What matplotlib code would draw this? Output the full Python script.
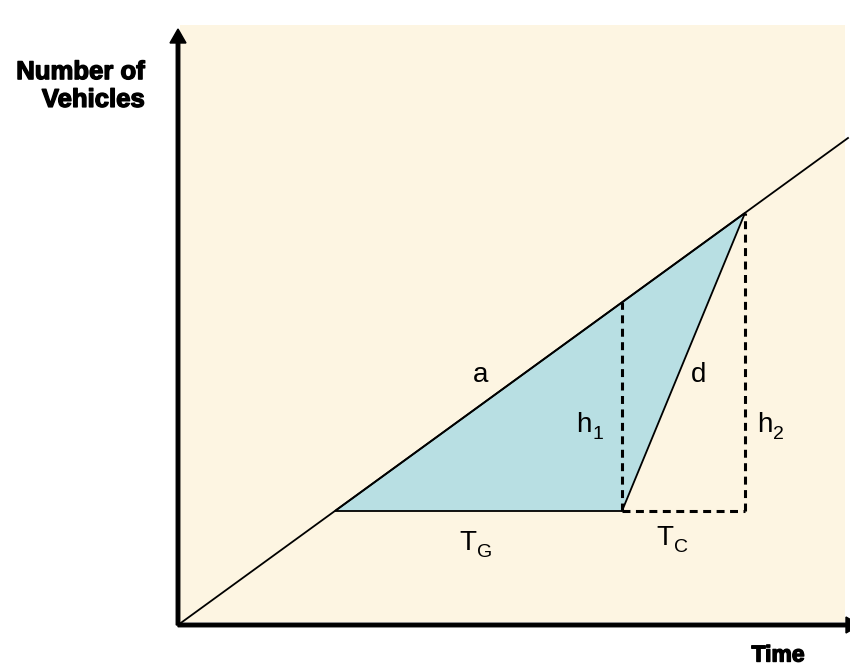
"""Queue diagram at a signalised intersection: cumulative vehicles vs time."""
import matplotlib
matplotlib.use("Agg")
import matplotlib.pyplot as plt
import matplotlib.patheffects as pe
from matplotlib.patches import Polygon, Rectangle, FancyArrow

plt.rcParams["font.family"] = ["Liberation Sans", "DejaVu Sans"]

# arrival curve: cumulative vehicles grow at a steady rate
arrival_t = [0, 670]
arrival_n = [0, 487]

# queue polygon: red start on arrival line, red end, clearance point
queue_t = [157, 444, 567]
queue_n = [114, 114, 412]

# labels (main letter, subscript)
label_a = ("a", "")
label_d = ("d", "")
label_h1 = ("h", "1")
label_h2 = ("h", "2")
label_tg = ("T", "G")
label_tc = ("T", "C")

W, H = 850, 668
fig = plt.figure(figsize=(W / 100, H / 100), dpi=100)
ax = fig.add_axes([178 / W, (H - 625) / H, 672 / W, 610 / H])
ax.set_xlim(0, 672)
ax.set_ylim(0, 610)
ax.axis("off")

# parchment panel
ax.add_patch(Rectangle((2, 3), 665, 597, facecolor="#FDF5E2",
                       edgecolor="none", zorder=0))

# queue area
ax.add_patch(Polygon(list(zip(queue_t, queue_n)), closed=True,
                     facecolor="#B8DFE3", edgecolor="black",
                     linewidth=1.3, zorder=2))

# arrival line
ax.plot(arrival_t, arrival_n, color="black", linewidth=1.3, zorder=3)

# dashed guides
rate = arrival_n[1] / arrival_t[1]
dash = dict(color="black", linewidth=2.2, linestyle=(0, (2.6, 1.8)), zorder=4)
ax.plot([queue_t[1], queue_t[1]], [queue_n[1], rate * queue_t[1]], **dash)
ax.plot([queue_t[2], queue_t[2]], [queue_n[1], queue_n[2]], **dash)
ax.plot([queue_t[1], queue_t[2]], [queue_n[1], queue_n[1]], **dash)

# axes with arrow heads
ax.add_patch(FancyArrow(0, 0, 0, 596, width=3.5, head_width=16,
                        head_length=14, length_includes_head=True,
                        color="black", clip_on=False, zorder=5))
ax.add_patch(FancyArrow(0, 0, 682, 0, width=3.5, head_width=16,
                        head_length=14, length_includes_head=True,
                        color="black", clip_on=False, zorder=5))


def put_label(x, y, parts, fs=20):
    """Write a letter with an optional subscript, letter baseline at y."""
    main, sub = parts
    t = ax.text(x, y, main, fontsize=fs, ha="left", va="baseline")
    if sub:
        fig.canvas.draw()
        bb = t.get_window_extent()
        x_end = ax.transData.inverted().transform((bb.x1, bb.y0))[0]
        ax.text(x_end + 1, y - 7, sub, fontsize=fs * 0.7,
                ha="left", va="baseline")


# curve labels
put_label(295, 243, label_a)
put_label(513, 243, label_d)
put_label(398, 193, label_h1)
put_label(579, 193, label_h2)
put_label(281, 75, label_tg)
put_label(478, 80, label_tc)

# axis titles
bold = [pe.withStroke(linewidth=1.0, foreground="black")]
fig.text(145 / W, 1 - 86 / H, "Number of\nVehicles", fontsize=18.5,
         fontweight="bold", ha="right", va="center", linespacing=1.2,
         path_effects=bold)
fig.text(778 / W, 1 - 655 / H, "Time", fontsize=16.5, fontweight="bold",
         ha="center", va="center", path_effects=bold)

fig.savefig("out.png", dpi=100)
